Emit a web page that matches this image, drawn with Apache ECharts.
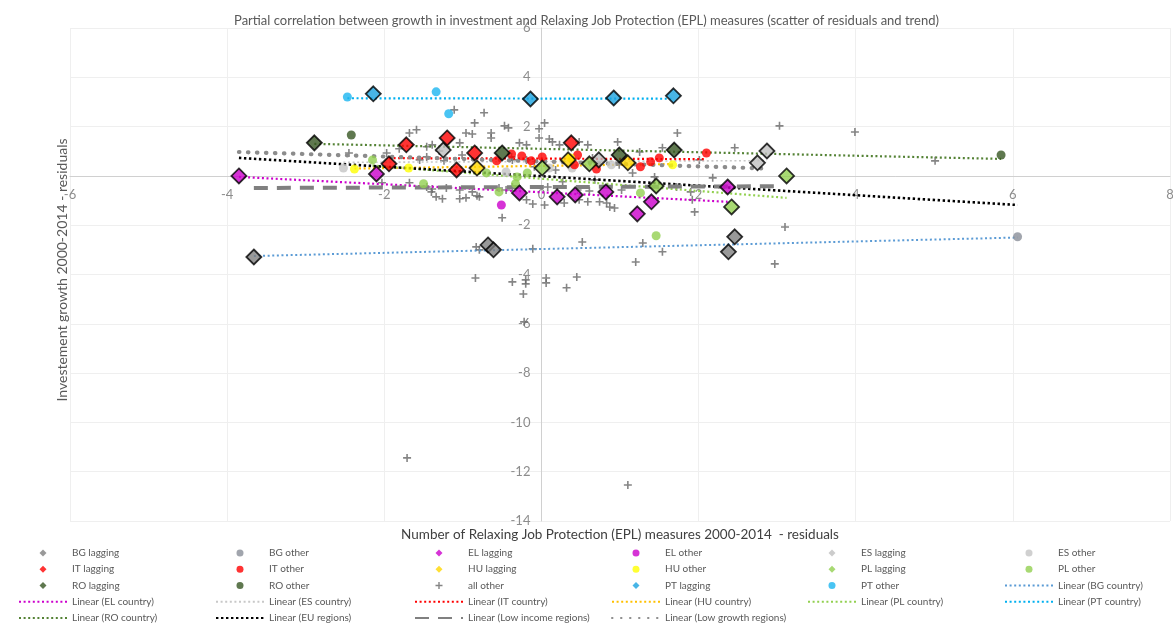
<!DOCTYPE html>
<html>
<head>
<meta charset="utf-8">
<script src="https://cdn.jsdelivr.net/npm/echarts@6/dist/echarts.min.js"></script>
<style>
  html, body { margin: 0; padding: 0; background: #ffffff; }
  #chart { width: 1173px; height: 625px; }
</style>
</head>
<body>
<div id="chart"></div>
<script>
// Residuals: [EPL measures residual, investment growth residual]
const bgLagging = [[-3.66,-3.29],[-0.68,-2.80],[-0.61,-3.00],[2.46,-2.47],[2.38,-3.08]];
const bgOther   = [[6.06,-2.47]];
const elLagging = [[-3.85,0.00],[-2.10,0.08],[-0.28,-0.69],[0.20,-0.85],[0.43,-0.77],[0.82,-0.65],[1.22,-1.54],[1.40,-1.05],[2.37,-0.45]];
const elOther   = [[-0.51,-1.18]];
const esLagging = [[-1.25,1.05],[0.73,0.65],[2.75,0.53],[2.87,1.01]];
const esOther   = [[-2.52,0.32],[-0.45,0.16],[0.10,0.32],[0.39,0.32],[0.89,0.45]];
const itLagging = [[-1.72,1.26],[-1.20,1.54],[-0.85,0.93],[-1.94,0.49],[-1.08,0.24],[0.38,1.34]];
const itOther   = [[-0.57,0.61],[-0.38,0.89],[-0.25,0.81],[-0.13,0.61],[0.01,0.77],[0.46,0.85],[0.42,0.45],[0.70,0.28],[1.26,0.37],[1.39,0.57],[1.50,0.73],[2.10,0.93]];
const huLagging = [[-0.82,0.32],[0.34,0.65],[1.10,0.53]];
const huOther   = [[-2.38,0.28],[-1.69,0.32],[0.37,0.73],[1.67,0.45]];
const plLagging = [[3.12,0.00],[2.42,-1.26],[1.46,-0.41],[0.01,0.32],[0.61,0.49]];
const plOther   = [[-2.15,0.65],[-1.50,-0.32],[-0.70,0.12],[-0.31,-0.04],[-0.33,-0.32],[-0.54,-0.65],[-0.18,0.12],[1.26,-0.69],[1.46,-2.43]];
const roLagging = [[-2.89,1.34],[-0.50,0.93],[0.99,0.85],[1.69,1.05]];
const roOther   = [[-2.42,1.66],[5.85,0.85]];
const ptLagging = [[-2.14,3.33],[-0.14,3.12],[0.92,3.16],[1.68,3.25]];
const ptOther   = [[-2.47,3.20],[-1.34,3.41],[-1.18,2.52]];
const allOther  = [
  [-1.11,2.68],[-0.73,2.56],[-0.85,2.15],[-0.47,2.03],[-0.42,1.95],[0.04,2.15],[-0.03,1.91],[-0.64,1.74],
  [-0.64,1.54],[-0.96,1.74],[-0.88,1.70],[-1.59,1.87],[-1.68,1.74],[-1.39,1.26],[-1.46,1.18],[-1.04,1.34],
  [-1.30,1.01],[-1.01,0.85],[-0.28,1.34],[-0.19,1.26],[-0.03,1.54],[0.10,1.50],[-1.81,1.10],[-1.97,0.93],
  [-1.46,0.77],[-1.55,0.65],[-1.24,0.61],[-0.38,0.77],[-0.37,0.65],[-0.19,0.65],[-2.03,-0.28],[-1.68,-0.28],
  [-1.46,-0.45],[-1.39,-0.53],[-1.21,-0.49],[-1.04,-0.57],[-0.88,-0.65],[-0.79,-0.85],[-0.54,-0.49],[-0.45,-0.57],
  [-0.37,-0.45],[-0.19,-0.97],[-0.11,-1.14],[-1.34,-0.85],[-1.26,-0.93],[-1.04,-0.93],[0.14,1.38],[0.23,1.26],
  [0.59,1.26],[0.48,1.38],[0.97,1.38],[1.73,1.74],[2.46,1.14],[0.65,0.73],[1.16,0.12],[1.44,-0.04],
  [1.72,-0.45],[1.02,-0.57],[0.74,-1.05],[0.61,-0.61],[0.87,-1.26],[1.92,-0.97],[3.03,2.03],[3.99,1.78],
  [3.10,-2.07],[2.97,-3.57],[1.95,-1.46],[1.54,-3.08],[1.29,-2.72],[1.20,-3.49],[0.52,-2.68],[1.90,-0.65],
  [0.93,-1.30],[5.01,0.61],[-1.71,-11.44],[1.10,-12.54],[-0.83,-2.88],[-0.79,-3.00],[-0.84,-4.14],[-0.37,-4.30],
  [-0.20,-4.22],[-0.20,-4.38],[-0.23,-4.79],[-0.11,-2.96],[0.06,-4.14],[0.06,-4.34],[0.32,-4.54],[0.45,-4.10],
  [-0.50,-1.70],[0.29,-1.10],[0.04,-1.18],[0.48,-0.97],[0.59,-1.05],[0.83,-1.10],[-0.96,-0.89],[-0.82,-0.81],
  [-1.40,-0.65],[-0.22,-5.92],[-2.45,0.93],[-0.09,0.37],[0.18,0.24],[0.27,-0.24],[0.08,-0.45],[0.46,-0.57],
  [0.68,-0.16],[0.99,0.45],[1.25,0.97],[1.54,1.14],[2.01,0.65],[2.18,-0.08]
];

// Linear trend lines: [start, end] in data units
const trendBG        = [[-3.66,-3.25],[6.06,-2.50]];
const trendEL        = [[-3.85,-0.04],[2.37,-1.05]];
const trendES        = [[-2.52,0.55],[2.87,0.62]];
const trendIT        = [[-1.94,0.72],[2.10,0.68]];
const trendHU        = [[-2.38,0.30],[1.67,0.48]];
const trendPL        = [[-2.15,0.42],[3.12,-0.89]];
const trendPT        = [[-2.47,3.15],[1.68,3.13]];
const trendRO        = [[-2.89,1.30],[5.85,0.69]];
const trendEU        = [[-3.85,0.73],[6.06,-1.18]];
const trendLowIncome = [[-3.66,-0.49],[3.05,-0.42]];
const trendLowGrowth = [[-3.85,0.97],[2.87,0.30]];

const chartTitle = 'Partial correlation between growth in investment and Relaxing Job Protection (EPL) measures (scatter of residuals and trend)';
const xAxisTitle = 'Number of Relaxing Job Protection (EPL) measures 2000-2014  - residuals';
const yAxisTitle = 'Investement growth 2000-2014 - residuals';

const FONT = 'Lato, "Open Sans", "DejaVu Sans", sans-serif';
// Path symbols keep their aspect ratio inside the legend icons
const PLUS = 'path://M3.6,0H5.4V3.6H9V5.4H5.4V9H3.6V5.4H0V3.6H3.6Z';
const DIAMOND = 'path://M5,0L10,5L5,10L0,5Z';
const DOT = 'path://M5,0A5,5,0,1,1,4.999,0Z';

// Grid box (pixels); the axes cross at data zero
const GRID = { left: 70, right: 3, top: 28, bottom: 104 };

function lagging(name, data, fill) {
  return { name, type: 'scatter', data, symbol: DIAMOND, symbolSize: 15, z: 5,
    itemStyle: { color: fill, borderColor: '#000000', borderWidth: 1.8 } };
}
function other(name, data, fill) {
  return { name, type: 'scatter', data, symbol: DOT, symbolSize: 9, z: 4,
    itemStyle: { color: fill } };
}
function trend(name, data, color, width, dash, cap) {
  return { name, type: 'line', data, symbol: 'none', z: 3, silent: true,
    lineStyle: { color, width, type: dash, cap: cap || 'butt' } };
}

const series = [
  { name: 'all other', type: 'scatter', data: allOther, symbol: PLUS, symbolSize: 8, z: 2,
    itemStyle: { color: '#666666' } },
  trend('Linear (BG country)', trendBG, '#5B9BD5', 2, [2, 2.6]),
  trend('Linear (EL country)', trendEL, '#CC00CC', 2.2, [2, 2.6]),
  trend('Linear (ES country)', trendES, '#C8C8C8', 1.6, [2, 2.6]),
  trend('Linear (IT country)', trendIT, '#FF0000', 2.2, [2, 2.6]),
  trend('Linear (HU country)', trendHU, '#FFC000', 2.2, [2, 2.6]),
  trend('Linear (PL country)', trendPL, '#92D050', 2.2, [2, 2.6]),
  trend('Linear (PT country)', trendPT, '#00B0F0', 2.2, [2, 2.6]),
  trend('Linear (RO country)', trendRO, '#548235', 2.2, [2, 2.6]),
  trend('Linear (EU regions)', trendEU, '#000000', 2.6, [2.4, 2.6]),
  trend('Linear (Low income regions)', trendLowIncome, '#808080', 4, [14, 9]),
  trend('Linear (Low growth regions)', trendLowGrowth, '#8C8C8C', 4.2, [0.5, 8.5], 'round'),
  other('BG other', bgOther, '#8A8F99'),
  other('EL other', elOther, '#CC00CC'),
  other('ES other', esOther, '#C4C4C4'),
  other('IT other', itOther, '#FF0000'),
  other('HU other', huOther, '#FFFF00'),
  other('PL other', plOther, '#92D050'),
  other('PT other', ptOther, '#1CB5F0'),
  other('RO other', roOther, '#375623'),
  lagging('BG lagging', bgLagging, '#808080'),
  lagging('EL lagging', elLagging, '#CC00CC'),
  lagging('ES lagging', esLagging, '#BFBFBF'),
  lagging('IT lagging', itLagging, '#FF0000'),
  lagging('HU lagging', huLagging, '#FFD700'),
  lagging('PL lagging', plLagging, '#92D050'),
  lagging('PT lagging', ptLagging, '#1AA3E0'),
  lagging('RO lagging', roLagging, '#375623')
];

// Legend laid out as six columns of five rows
const legendColumns = [
  ['BG lagging', 'IT lagging', 'RO lagging', 'Linear (EL country)', 'Linear (RO country)'],
  ['BG other', 'IT other', 'RO other', 'Linear (ES country)', 'Linear (EU regions)'],
  ['EL lagging', 'HU lagging', 'all other', 'Linear (IT country)', 'Linear (Low income regions)'],
  ['EL other', 'HU other', 'PT lagging', 'Linear (HU country)', 'Linear (Low growth regions)'],
  ['ES lagging', 'PL lagging', 'PT other', 'Linear (PL country)'],
  ['ES other', 'PL other', 'Linear (BG country)', 'Linear (PT country)']
];
const legendLefts = [18, 215, 414, 611, 807, 1004];

const legends = legendColumns.map((names, i) => ({
  orient: 'vertical',
  left: legendLefts[i],
  top: 547,
  itemWidth: 48,
  itemHeight: 7,
  itemGap: 4.25,
  selectedMode: false,
  padding: 0,
  itemStyle: { borderWidth: 0 },
  textStyle: { color: '#595959', fontSize: 10, fontFamily: FONT, lineHeight: 12 },
  // trend entries show only their line sample
  data: names.map(n => n.startsWith('Linear')
    ? { name: n, itemStyle: { opacity: 0 } }
    : { name: n })
}));

const chart = echarts.init(document.getElementById('chart'), null, { renderer: 'canvas' });
const plotHeight = 625 - GRID.top - GRID.bottom;
chart.setOption({
  backgroundColor: '#ffffff',
  animation: false,
  title: {
    text: chartTitle,
    left: 'center',
    top: 9,
    textStyle: { color: '#595959', fontSize: 13, fontWeight: 'normal', fontFamily: FONT }
  },
  legend: legends,
  grid: Object.assign({ outerBoundsMode: 'none', containLabel: false }, GRID),
  xAxis: {
    type: 'value', min: -6, max: 8, interval: 2,
    axisLine: { onZero: true, lineStyle: { color: '#D0D0D0', width: 1 } },
    axisTick: { show: false },
    // labels sit just under the zero line
    axisLabel: { color: '#8C8C8C', fontSize: 13, fontFamily: FONT, margin: -(plotHeight * 14 / 20) + 12 },
    splitLine: { show: true, lineStyle: { color: '#EFEFEF', width: 1 } }
  },
  yAxis: {
    type: 'value', min: -14, max: 6, interval: 2,
    axisLine: { onZero: true, lineStyle: { color: '#D0D0D0', width: 1 } },
    axisTick: { show: false },
    // labels sit just left of the zero line
    axisLabel: { color: '#8C8C8C', fontSize: 13, fontFamily: FONT,
      margin: -((1173 - GRID.left - GRID.right) * 6 / 14) + 11,
      formatter: v => (v === 0 ? '' : String(v)) },
    splitLine: { show: true, lineStyle: { color: '#EFEFEF', width: 1 } }
  },
  graphic: [
    { type: 'text', x: 62, y: 270, rotation: Math.PI / 2, silent: true,
      style: { text: yAxisTitle, fill: '#595959', font: '14px ' + FONT,
        align: 'center', verticalAlign: 'middle', textAlign: 'center', textVerticalAlign: 'middle' } },
    { type: 'text', x: 620, y: 535, silent: true,
      style: { text: xAxisTitle, fill: '#404040', font: '13.5px ' + FONT,
        align: 'center', verticalAlign: 'middle', textAlign: 'center', textVerticalAlign: 'middle' } }
  ],
  series
});
</script>
</body>
</html>
